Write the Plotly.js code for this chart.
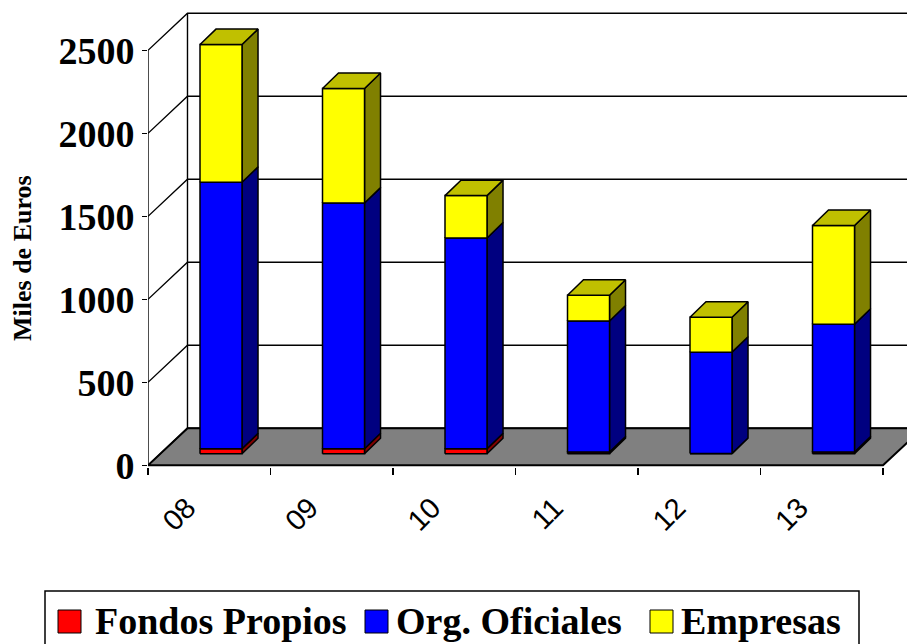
<!DOCTYPE html>
<html>
<head>
<meta charset="utf-8">
<script src="https://cdn.plot.ly/plotly-3.0.1.min.js"></script>
<style>html,body{margin:0;padding:0;background:#fff;}#chart{width:907px;height:644px;}</style>
</head>
<body>
<div id="chart"></div>
<script>
// ---- data ----
const categories = ['08', '09', '10', '11', '12', '13'];
const fondosPropios = [30, 30, 30, 10, 2, 10];
const orgOficiales = [1605, 1480, 1270, 790, 610, 770];
const empresas = [830, 690, 255, 155, 210, 595];
const seriesNames = ['Fondos Propios', 'Org. Oficiales', 'Empresas'];
const yTicks = [0, 500, 1000, 1500, 2000, 2500];
const yTitle = 'Miles de Euros';

// ---- styles / 3D geometry (in axis units) ----
const frontColors = ['#FF0000', '#0000FF', '#FFFF00'];
const sideColors = ['#800000', '#000080', '#808000'];
const topColor = '#C0C000';
const FLOOR_DX = 0.3224, FLOOR_DY = 223;
const BAR_OX = 0.096, BAR_OY = 70, BAR_W = 0.343, BAR_DX = 0.1306, BAR_DY = 93;
const SERIF = 'Liberation Serif, Times New Roman, serif';

// plot-area pixel geometry (for legend placement in paper units)
const M = {l: 148, r: 0, t: 10, b: 177};
const PW = 907 - M.l - M.r, PH = 644 - M.t - M.b;
const px2x = p => (p - M.l) / PW;
const px2y = p => (644 - M.b - p) / PH;

const series = [fondosPropios, orgOficiales, empresas];
const nCat = categories.length;
const idx = categories.map((c, i) => i);
const X0 = -0.5, X1 = nCat - 0.5;
const yMax = yTicks[yTicks.length - 1];

const traces = [];
const poly = (x, y, fillcolor, lw) => ({
  type: 'scatter', mode: 'lines', fill: 'toself', fillcolor: fillcolor,
  x: x, y: y, line: {color: '#000', width: lw}, showlegend: false, hoverinfo: 'skip'
});
// floor
traces.push(poly([X0, X1, X1 + FLOOR_DX, X0 + FLOOR_DX, X0], [0, 0, FLOOR_DY, FLOOR_DY, 0], '#808080', 2));
// walls: gridlines on left and back wall, wall edges, front axis line
const wx = [], wy = [];
yTicks.forEach(v => {
  wx.push(X0, X0 + FLOOR_DX, X1 + FLOOR_DX + 1, null);
  wy.push(v, v + FLOOR_DY, v + FLOOR_DY, null);
});
wx.push(X0 + FLOOR_DX, X0 + FLOOR_DX, null, X0, X0, null);
wy.push(FLOOR_DY, yMax + FLOOR_DY, null, 0, yMax, null);
traces.push({
  type: 'scatter', mode: 'lines', x: wx, y: wy,
  line: {color: '#000', width: 1.4}, showlegend: false, hoverinfo: 'skip'
});
// stacked bars (3D): cumulative bases
const cum = idx.map(() => 0);
const bases = series.map(s => {
  const b = cum.slice();
  s.forEach((v, i) => { cum[i] += v; });
  return b;
});
// side faces
series.forEach((s, k) => {
  const sx = [], sy = [];
  s.forEach((v, i) => {
    const xr = i + BAR_OX + BAR_W / 2;
    const b = bases[k][i] + BAR_OY, t = b + v;
    sx.push(xr, xr + BAR_DX, xr + BAR_DX, xr, xr, null);
    sy.push(b, b + BAR_DY, t + BAR_DY, t, b, null);
  });
  traces.push(poly(sx, sy, sideColors[k], 1.5));
});
// front faces
series.forEach((s, k) => {
  const fx = [], fy = [];
  s.forEach((v, i) => {
    const xl = i + BAR_OX - BAR_W / 2, xr = i + BAR_OX + BAR_W / 2;
    const b = bases[k][i] + BAR_OY, t = b + v;
    fx.push(xl, xr, xr, xl, xl, null);
    fy.push(b, b, t, t, b, null);
  });
  const tr = poly(fx, fy, frontColors[k], 1.5);
  tr.name = seriesNames[k];
  traces.push(tr);
});
// top faces
const tx = [], ty = [];
idx.forEach(i => {
  const xl = i + BAR_OX - BAR_W / 2, xr = i + BAR_OX + BAR_W / 2;
  const T = cum[i] + BAR_OY;
  tx.push(xl, xl + BAR_DX, xr + BAR_DX, xr, xl, null);
  ty.push(T, T + BAR_DY, T + BAR_DY, T, T, null);
});
traces.push(poly(tx, ty, topColor, 1.5));

// legend (drawn box, keys and labels)
const legKeyLeft = [58, 365, 650];
const legTextLeft = [93, 394, 679];
const shapes = [{
  type: 'rect', xref: 'paper', yref: 'paper',
  x0: px2x(45), x1: px2x(859), y0: px2y(591), y1: px2y(660),
  line: {color: '#000', width: 1.5}, fillcolor: '#fff', layer: 'below'
}];
const annotations = [];
seriesNames.forEach((name, k) => {
  shapes.push({
    type: 'rect', xref: 'paper', yref: 'paper',
    x0: px2x(legKeyLeft[k]), x1: px2x(legKeyLeft[k] + 23), y0: px2y(610), y1: px2y(633),
    line: {color: '#000', width: 1}, fillcolor: frontColors[k]
  });
  annotations.push({
    xref: 'paper', yref: 'paper', x: px2x(legTextLeft[k]), y: px2y(621),
    xanchor: 'left', yanchor: 'middle', showarrow: false, text: name,
    font: {family: SERIF, size: 38, color: '#000', weight: 'bold'}
  });
});
// y axis title, centred on the front axis
annotations.push({
  xref: 'paper', yref: 'paper', x: px2x(22), y: px2y(258),
  xanchor: 'center', yanchor: 'middle', showarrow: false, textangle: -90, text: yTitle,
  font: {family: SERIF, size: 26, color: '#000', weight: 'bold'}
});

const layout = {
  width: 907, height: 644,
  margin: M,
  paper_bgcolor: '#fff', plot_bgcolor: 'rgba(0,0,0,0)',
  showlegend: false,
  shapes: shapes,
  annotations: annotations,
  xaxis: {
    type: 'linear', range: [X0, X0 + PW / 122.5], fixedrange: true,
    showgrid: false, zeroline: false, showline: false,
    tickmode: 'array', tickvals: idx, ticktext: categories, ticks: '',
    tickangle: -45, ticklabelshift: -22, ticklabelstandoff: 17,
    tickfont: {family: 'Liberation Sans, Arial, sans-serif', size: 29, color: '#000'},
    minor: {tickmode: 'array', tickvals: idx.concat([nCat]).map(i => i - 0.5), ticks: 'outside', ticklen: 7, tickwidth: 1.5, tickcolor: '#000', showgrid: false}
  },
  yaxis: {
    range: [-10, 2743], fixedrange: true,
    showgrid: false, zeroline: false, showline: false,
    tickmode: 'array', tickvals: yTicks, ticks: 'outside', ticklen: 5, tickwidth: 1.5, tickcolor: '#000',
    tickfont: {family: SERIF, size: 38, color: '#000', weight: 'bold'}
  }
};

Plotly.newPlot('chart', traces, layout, {staticPlot: true, displayModeBar: false});
</script>
</body>
</html>
